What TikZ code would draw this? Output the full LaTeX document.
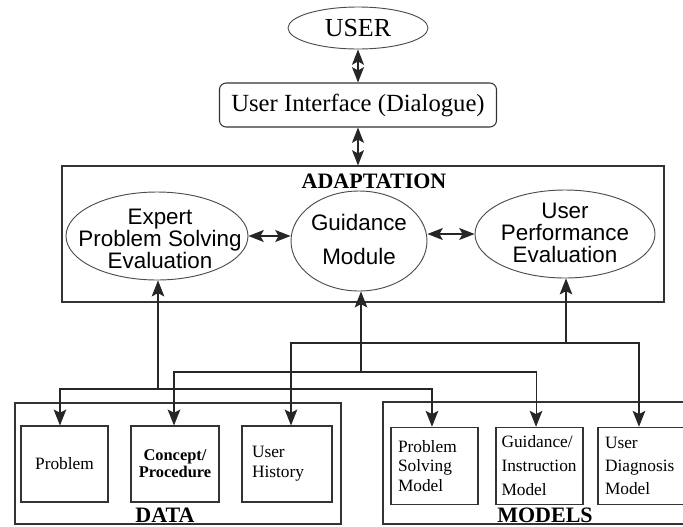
\documentclass[tikz,border=0pt]{standalone}
\usepackage{fontspec}
\setmainfont{Liberation Serif}
\newfontfamily\arialf{Liberation Sans}
\usetikzlibrary{shapes.geometric,arrows.meta}
\begin{document}
\begin{tikzpicture}[x=0.75pt,y=-0.75pt,
  ln/.style={line width=0.8pt, draw=black!85},
  arr/.style={ln,-{Stealth[length=12pt,width=9.5pt,inset=2.5pt]}},
  dbl/.style={ln,{Stealth[length=11.5pt,width=9pt,inset=2.5pt]}-{Stealth[length=11.5pt,width=9pt,inset=2.5pt]}},
  oval/.style={ellipse, draw=black!70, line width=0.7pt, inner sep=0pt},
  sq/.style={rectangle, draw=black!80, line width=0.8pt, inner sep=0pt},
  etext/.style={font=\arialf\fontsize{16.8}{16.5}\selectfont, align=center, inner sep=0pt},
  btext/.style={font=\fontsize{13}{15}\selectfont},
  ltext/.style={align=left, inner ysep=0pt}
]
\useasboundingbox (0,0) rectangle (683,526);
\clip (0,0) rectangle (683,526);

% top
\node[oval, minimum width=105pt, minimum height=31.5pt, font=\fontsize{19.5}{20}\selectfont] (user) at (358,28) {USER};
\node[sq, rounded corners=5pt, minimum width=207.75pt, minimum height=33pt, font=\fontsize{18.5}{20}\selectfont] (ui) at (358,105) {User Interface (Dialogue)};

% adaptation
\node[sq, minimum width=451.5pt, minimum height=102pt] (adapt) at (363,234) {};
\node[anchor=base, font=\bfseries\fontsize{16.5}{18}\selectfont] (adaptlbl) at (374,188) {ADAPTATION};

\node[oval, minimum width=136.5pt, minimum height=66pt,
  label={[etext, xshift=2.25pt, yshift=-2.25pt]center:{Expert\\Problem Solving\\Evaluation}}] (expert) at (157,236) {};
\node[oval, minimum width=102pt, minimum height=75pt,
  label={[etext, font=\arialf\fontsize{16.8}{25.5}\selectfont, yshift=1pt]center:{Guidance\\Module}}] (guide) at (359,241) {};
\node[oval, minimum width=135pt, minimum height=66pt,
  label={[etext, yshift=0.75pt]center:{User\\Performance\\Evaluation}}] (perf) at (565,234) {};

% data
\node[sq, minimum width=244.5pt, minimum height=90.75pt] (data) at (178,463.5) {};
\node[anchor=base, font=\bfseries\fontsize{16.5}{18}\selectfont] (datalbl) at (165,522) {DATA};
\node[sq, minimum width=65.25pt, minimum height=57pt, btext] (problem) at (64.5,464) {Problem};
\node[sq, minimum width=66pt, minimum height=57pt, align=center, font=\bfseries\fontsize{12.3}{12.75}\selectfont] (concept) at (175,464) {Concept/\\Procedure};
\node[sq, minimum width=67.5pt, minimum height=57pt, ltext, text width=52.5pt, inner xsep=7.5pt, btext] (history) at (287,464) {User\\History};

% models
\node[sq, minimum width=234pt, minimum height=91.5pt] (models) at (539,463) {};
\node[anchor=base, font=\bfseries\fontsize{16.5}{18}\selectfont] (modlbl) at (545,522.5) {MODELS};
\node[sq, minimum width=65.25pt, minimum height=58pt, ltext, text width=54.75pt, inner xsep=5.25pt, font=\fontsize{13}{14.6}\selectfont] (psm) at (434.5,466) {Problem\\Solving\\Model};
\node[sq, minimum width=65.25pt, minimum height=58pt, ltext, text width=57pt, inner xsep=4.125pt, font=\fontsize{13}{18}\selectfont] (gim) at (539.5,466) {Guidance/\\Instruction\\Model};
\node[sq, minimum width=65.25pt, minimum height=58pt, ltext, text width=54.75pt, inner xsep=5.25pt, font=\fontsize{13}{17.25}\selectfont] (udm) at (641.5,466) {User\\Diagnosis\\Model};

% connectors top
\draw[dbl] (user.south) -- (ui.north);
\draw[dbl] (ui.south) -- (ui.south |- adapt.north);
\draw[dbl] (expert.east) -- (expert.east -| guide.west);
\draw[dbl] (guide.east |- perf.west) -- (perf.west);

% trees
\coordinate (j1) at (158,389);
\coordinate (j2) at (361,372);
\coordinate (j3) at (566,343);

\draw[arr] (j1) -- (j1 |- expert.south);
\draw[arr] (j1) -| ([xshift=-3.4pt]problem.north);
\draw[arr] (j1) -| ([xshift=-1.9pt]psm.north);

\draw[arr] (j2) -- (j2 |- guide.south);
\draw[arr] (j2) -| ([xshift=-0.75pt]concept.north);
\draw[arr] (j2) -| ([xshift=-2.6pt]gim.north);

\draw[arr] (j3) -- (j3 |- perf.south);
\draw[arr] (j3) -| ([xshift=3pt]history.north);
\draw[arr] (j3) -| ([xshift=-1.9pt]udm.north);
\end{tikzpicture}
\end{document}
